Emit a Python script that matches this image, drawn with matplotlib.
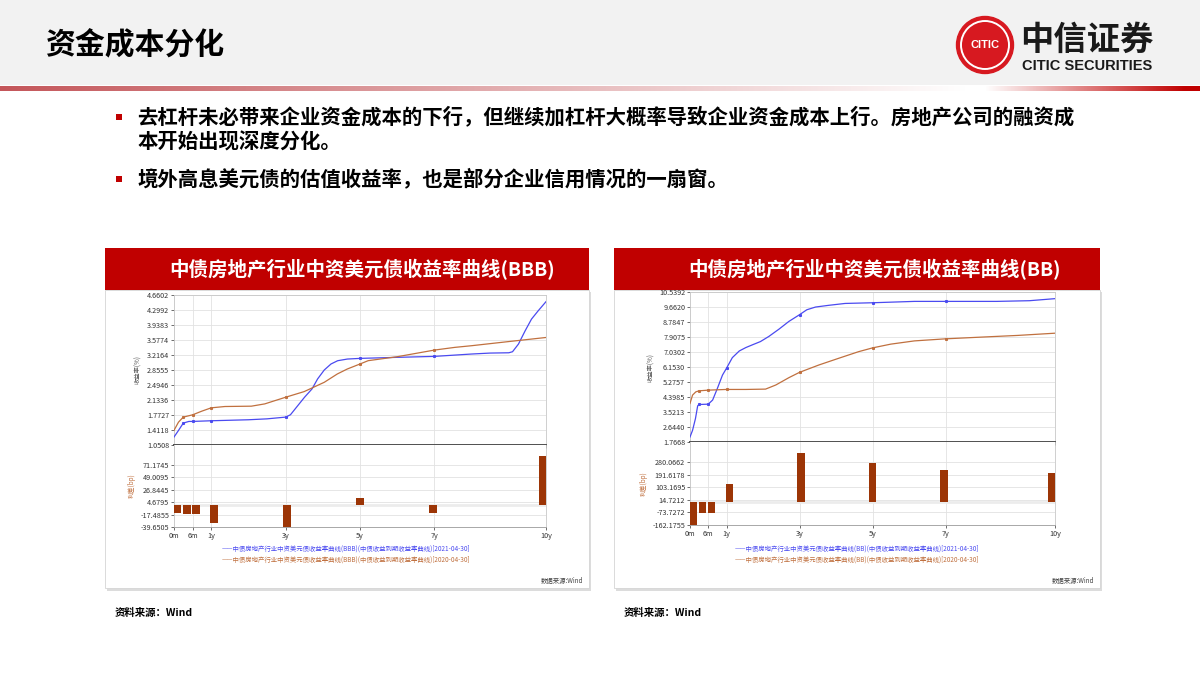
import numpy as np
import matplotlib
matplotlib.use("Agg")
import matplotlib.pyplot as plt
from matplotlib.patches import Rectangle, Circle

plt.rcParams["font.family"] = ["Noto Sans CJK SC", "DejaVu Sans"]

W, H = 1200, 675

# ---- slide text ----
page_title = "资金成本分化"
bullets = [
    ["去杠杆未必带来企业资金成本的下行，但继续加杠杆大概率导致企业资金成本上行。房地产公司的融资成",
     "本开始出现深度分化。"],
    ["境外高息美元债的估值收益率，也是部分企业信用情况的一扇窗。"],
]
source_note = "资料来源：Wind"

# ---- tenor axis ----
tenor_ticks = [0, 0.5, 1, 3, 5, 7, 10]
tenor_labels = ["0m", "6m", "1y", "3y", "5y", "7y", "10y"]
bar_tenors = [0, 0.25, 0.5, 1, 3, 5, 7, 10]
marked_tenors = [0.25, 0.5, 1, 3, 5, 7]

# ---- BBB chart ----
bbb_title = "中债房地产行业中资美元债收益率曲线(BBB)"
bbb_t_2021 = [0, 0.12, 0.25, 0.4, 0.5, 1, 2, 2.5, 3, 3.13, 3.33, 3.51, 3.71, 3.86,
              4.04, 4.22, 4.4, 4.66, 5, 6, 7, 8, 8.5, 9, 9.1, 9.26, 9.44, 9.61, 9.79, 10]
bbb_y_2021 = [1.243, 1.40, 1.578, 1.618, 1.618, 1.634, 1.658, 1.68, 1.722, 1.778, 2.001,
              2.201, 2.40, 2.64, 2.856, 3.0, 3.079, 3.119, 3.135, 3.16, 3.183, 3.24, 3.263,
              3.27, 3.295, 3.48, 3.80, 4.08, 4.28, 4.50]
bbb_t_2020 = [0, 0.12, 0.25, 0.5, 0.75, 1, 1.37, 2.08, 2.44, 3, 3.5, 4.04, 4.39, 4.66,
              5, 5.22, 6, 7, 7.55, 8, 9, 10]
bbb_y_2020 = [1.403, 1.60, 1.722, 1.777, 1.866, 1.945, 1.977, 1.985, 2.04, 2.20, 2.336,
              2.56, 2.76, 2.88, 3.0, 3.08, 3.175, 3.335, 3.40, 3.44, 3.54, 3.638]
bbb_spread = [-14, -16, -16, -32, -39.65, 13, -15, 88]
bbb_yield_ticks = [1.0508, 1.4118, 1.7727, 2.1336, 2.4946, 2.8555, 3.2164, 3.5774,
                   3.9383, 4.2992, 4.6602]
bbb_yield_labels = ["1.0508", "1.4118", "1.7727", "2.1336", "2.4946", "2.8555", "3.2164",
                    "3.5774", "3.9383", "4.2992", "4.6602"]
bbb_spread_ticks = [-39.6505, -17.4855, 4.6795, 26.8445, 49.0095, 71.1745]
bbb_spread_labels = ["-39.6505", "-17.4855", "4.6795", "26.8445", "49.0095", "71.1745"]
bbb_spread_top = 106.9

# ---- BB chart ----
bb_title = "中债房地产行业中资美元债收益率曲线(BB)"
bb_t_2021 = [0, 0.07, 0.15, 0.21, 0.25, 0.5, 0.62, 0.75, 0.89, 1, 1.16, 1.35, 1.53, 1.71,
             1.93, 2.16, 2.44, 2.71, 3, 3.2, 3.44, 3.8, 4.25, 5, 6.15, 7, 8.4, 9.3, 10]
bb_y_2021 = [2.06, 2.45, 3.14, 3.88, 3.96, 3.98, 4.22, 4.90, 5.68, 6.08, 6.70, 7.09, 7.29,
             7.45, 7.64, 7.94, 8.37, 8.82, 9.21, 9.50, 9.66, 9.76, 9.87, 9.91, 9.99, 9.99,
             9.99, 10.03, 10.15]
bb_t_2020 = [0, 0.07, 0.16, 0.25, 0.5, 1, 1.53, 2.07, 2.35, 2.71, 3, 3.53, 4.07, 4.62, 5,
             5.5, 6.15, 7, 7.97, 8.98, 10]
bb_y_2020 = [4.02, 4.51, 4.70, 4.76, 4.80, 4.84, 4.84, 4.86, 5.10, 5.53, 5.84, 6.27, 6.66,
             7.05, 7.27, 7.49, 7.68, 7.80, 7.90, 8.0, 8.13]
bb_spread = [-162.1755, -78, -78, 129, 345, 272, 222, 205]
bb_yield_ticks = [1.7668, 2.6440, 3.5213, 4.3985, 5.2757, 6.1530, 7.0302, 7.9075, 8.7847,
                  9.6620, 10.5392]
bb_yield_labels = ["1.7668", "2.6440", "3.5213", "4.3985", "5.2757", "6.1530", "7.0302",
                   "7.9075", "8.7847", "9.6620", "10.5392"]
bb_spread_ticks = [-162.1755, -73.7272, 14.7212, 103.1695, 191.6178, 280.0662]
bb_spread_labels = ["-162.1755", "-73.7272", "14.7212", "103.1695", "191.6178", "280.0662"]
bb_spread_top = 422.0

legend_2021 = "——中债房地产行业中资美元债收益率曲线({})(中债收益到期收益率曲线)[2021-04-30]"
legend_2020 = "——中债房地产行业中资美元债收益率曲线({})(中债收益到期收益率曲线)[2020-04-30]"

RED = "#c00000"
BLUE = "#4a4af0"
BROWN = "#c0703f"
BAR = "#9c3506"
GRID = "#e2e2e2"


def box(x0, y0, x1, y1):
    return [x0 / W, 1 - y1 / H, (x1 - x0) / W, (y1 - y0) / H]


def rect(x0, y0, x1, y1, zorder=-2, **kw):
    fig.patches.append(Rectangle((x0 / W, 1 - y1 / H), (x1 - x0) / W, (y1 - y0) / H,
                                 transform=fig.transFigure, zorder=zorder, **kw))


fig = plt.figure(figsize=(12, 6.75), dpi=100)
fig.patch.set_facecolor("white")

# header band
rect(0, 0, 1200, 85, facecolor="#f2f2f2", edgecolor="none", zorder=-5)
fig.text(45 / W, 1 - 45 / H, page_title, fontsize=21.5, fontweight="heavy",
         ha="left", va="center", color="black")

# gradient rule under the header
ax_g = fig.add_axes(box(0, 86, 1200, 91))
grad = np.ones((1, 1200, 3))
left_c = np.array([196, 86, 90]) / 255
right_c = np.array([192, 0, 0]) / 255
for i in range(1200):
    if i < 985:
        f = min(i / 965, 1.0)
        grad[0, i] = left_c * (1 - f) + f
    else:
        f = min((i - 985) / 200, 1.0)
        grad[0, i] = right_c * f + (1 - f)
ax_g.imshow(grad, aspect="auto")
ax_g.axis("off")

# logo
ax_logo = fig.add_axes(box(955, 15, 1015, 75))
ax_logo.set_xlim(-1, 1)
ax_logo.set_ylim(-1, 1)
ax_logo.set_aspect("equal")
ax_logo.axis("off")
ax_logo.add_patch(Circle((0, 0), 0.95, color="#d71920"))
ax_logo.add_patch(Circle((0, 0), 0.8, fill=False, edgecolor="white", lw=1.4))
ax_logo.text(0, 0, "CITIC", color="white", fontsize=8, fontweight="bold",
             ha="center", va="center", family="Liberation Sans")
fig.text(1020 / W, 1 - 40 / H, "中信证券", fontsize=24, fontweight="bold",
         ha="left", va="center", color="#1a1a1a")
fig.text(1022 / W, 1 - 66 / H, "CITIC SECURITIES", fontsize=10.5, fontweight="bold",
         ha="left", va="center", color="#1a1a1a", family="Liberation Sans")

# bullets
y_line = [117, 142, 179]
k = 0
for para in bullets:
    rect(116, y_line[k] - 3, 122, y_line[k] + 3, facecolor=RED, edgecolor="none", zorder=1)
    for line in para:
        fig.text(137 / W, 1 - y_line[k] / H, line, fontsize=14.7, fontweight="bold",
                 ha="left", va="center", color="black")
        k += 1


def draw_chart(px, title, t21, y21, t20, y20, spread, yt, ytl, st, stl, s_top, grade):
    x0, x1 = px["panel"]
    # panel + header
    rect(x0 + 2, 292, x1 + 2, 591, facecolor="#dcdcdc", edgecolor="none", zorder=-4)
    rect(x0, 290, x1, 588, facecolor="white", edgecolor="#d4d4d4", lw=0.6, zorder=-3)
    rect(x0, 248, x1, 290, facecolor=RED, edgecolor="none", zorder=-3)
    fig.text(px["title_x"] / W, 1 - 270 / H, title, fontsize=14, fontweight="bold",
             color="white", ha="center", va="center")

    ax0, ax1_ = px["ax_x"]
    yu0, yu1, yl1 = px["ax_y"]
    ax_u = fig.add_axes(box(ax0, yu0, ax1_, yu1))
    ax_l = fig.add_axes(box(ax0, yu1, ax1_, yl1))

    # upper: yield curves
    t21 = np.array(t21)
    t20 = np.array(t20)
    ax_u.plot(t21, y21, color=BLUE, lw=0.9, zorder=3, marker="s", markersize=1.2,
              markevery=list(np.where(np.isin(t21, marked_tenors))[0]))
    ax_u.plot(t20, y20, color=BROWN, lw=0.9, zorder=3, marker="s", markersize=1.2,
              markevery=list(np.where(np.isin(t20, marked_tenors))[0]))
    ax_u.set_xlim(0, 10)
    ax_u.set_ylim(yt[0], yt[-1])
    ax_u.set_yticks(yt)
    ax_u.set_yticklabels(ytl)
    ax_u.set_xticks(tenor_ticks)
    ax_u.tick_params(axis="x", length=0, labelbottom=False)
    ax_u.grid(True, color=GRID, lw=0.6)
    ax_u.set_ylabel("收益率(%)", fontsize=4.5, color="#555555", labelpad=3)

    # lower: spread bars (2021 minus 2020, bp)
    w = 0.2
    bt = np.array(bar_tenors, dtype=float)
    ax_l.bar(bt - w * bt / 10, spread, width=w, align="edge", color=BAR, zorder=3)
    ax_l.axhline(0, color="#ececec", lw=2, zorder=1)
    ax_l.set_xlim(0, 10)
    ax_l.set_ylim(st[0], s_top)
    ax_l.set_yticks(st)
    ax_l.set_yticklabels(stl)
    ax_l.set_xticks(tenor_ticks)
    ax_l.set_xticklabels(tenor_labels)
    ax_l.grid(True, color=GRID, lw=0.6)
    ax_l.set_ylabel("利差(bp)", fontsize=4.5, color=BROWN, labelpad=3)

    for a in (ax_u, ax_l):
        a.tick_params(labelsize=5.2, colors="#333333", length=2, width=0.5, pad=1.5)
        for s in a.spines.values():
            s.set_color("#c8c8c8")
            s.set_linewidth(0.6)
        a.set_axisbelow(True)
        a.set_zorder(2)
    ax_u.spines["bottom"].set_color("#505050")
    ax_u.spines["bottom"].set_linewidth(1.4)
    ax_l.spines["top"].set_visible(False)
    ax_l.spines["bottom"].set_color("#9a9a9a")

    fig.text(px["legend_x"] / W, 1 - 549 / H, legend_2021.format(grade), fontsize=4.6,
             color=BLUE, ha="center", va="center")
    fig.text(px["legend_x"] / W, 1 - 560 / H, legend_2020.format(grade), fontsize=4.6,
             color=BROWN, ha="center", va="center")
    fig.text((x1 - 6) / W, 1 - 581 / H, "数据来源:Wind", fontsize=4.6, color="#444444",
             ha="right", va="center")
    fig.text((x0 + 10) / W, 1 - 613 / H, source_note, fontsize=7.5, fontweight="bold",
             color="black", ha="left", va="center")


draw_chart({"panel": (105, 589), "title_x": 362, "ax_x": (174, 546),
            "ax_y": (295, 445, 527), "legend_x": 346},
           bbb_title, bbb_t_2021, bbb_y_2021, bbb_t_2020, bbb_y_2020, bbb_spread,
           bbb_yield_ticks, bbb_yield_labels, bbb_spread_ticks, bbb_spread_labels,
           bbb_spread_top, "BBB")
draw_chart({"panel": (614, 1100), "title_x": 875, "ax_x": (690, 1055),
            "ax_y": (292, 442, 525), "legend_x": 857},
           bb_title, bb_t_2021, bb_y_2021, bb_t_2020, bb_y_2020, bb_spread,
           bb_yield_ticks, bb_yield_labels, bb_spread_ticks, bb_spread_labels,
           bb_spread_top, "BB")

fig.savefig("out.png", dpi=100)
